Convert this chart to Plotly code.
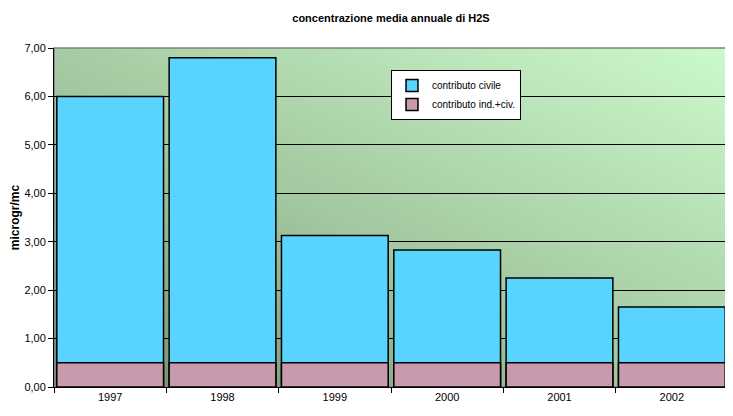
import base64
import plotly.graph_objects as go

anni = ["1997", "1998", "1999", "2000", "2001", "2002"]
contributo_civile = [6.0, 6.8, 3.13, 2.83, 2.25, 1.65]
contributo_ind_civ = [0.5, 0.5, 0.5, 0.5, 0.5, 0.5]
y_ticks = [0, 1, 2, 3, 4, 5, 6, 7]

# diagonal green background like the old Excel chart
svg = (
    '<svg xmlns="http://www.w3.org/2000/svg" width="100" height="100" preserveAspectRatio="none">'
    '<defs><linearGradient id="g" x1="0" y1="1" x2="1" y2="0">'
    '<stop offset="0" stop-color="#6f8c6f"/>'
    '<stop offset="0.45" stop-color="#a3c7a0"/>'
    '<stop offset="1" stop-color="#ccfacc"/>'
    '</linearGradient></defs>'
    '<rect width="100" height="100" fill="url(#g)"/></svg>'
)
bg_src = "data:image/svg+xml;base64," + base64.b64encode(svg.encode()).decode()

fig = go.Figure()
fig.add_trace(go.Bar(
    x=anni, y=contributo_civile, name="contributo civile",
    marker=dict(color="#58d4ff", line=dict(color="black", width=1.5)),
))
fig.add_trace(go.Bar(
    x=anni, y=contributo_ind_civ, name="contributo ind.+civ.",
    marker=dict(color="#c89aad", line=dict(color="black", width=1.5)),
))

# page body has an 8px margin, so margins are shifted by that
fig.update_layout(
    width=733, height=416,
    barmode="overlay", bargap=0.05,
    separators=",.",
    paper_bgcolor="white", plot_bgcolor="#a3c7a0",
    font=dict(family="Arial, Liberation Sans", size=11, color="black"),
    margin=dict(l=46, r=13, t=40, b=37, autoexpand=False),
    title=dict(text="<b>concentrazione media annuale di H2S</b>",
               x=0.5, xref="paper", y=0.985, yanchor="top",
               pad=dict(t=0), font=dict(size=11)),
    images=[dict(source=bg_src, xref="paper", yref="paper", x=0, y=1,
                 sizex=1, sizey=1, sizing="stretch", layer="below")],
    legend=dict(x=0.50, y=0.935, xanchor="left", yanchor="top",
                bgcolor="white", bordercolor="black", borderwidth=1,
                font=dict(size=10), tracegroupgap=0, itemwidth=30),
    showlegend=True,
)
fig.update_yaxes(
    range=[0, 7], tickvals=y_ticks, tickformat=".2f",
    showgrid=True, gridcolor="black", gridwidth=1,
    showline=True, linecolor="black", linewidth=1,
    ticks="outside", ticklen=5, tickcolor="black",
    mirror=False, zeroline=False, automargin=False,
    title=dict(text="<b>microgr/mc</b>", font=dict(size=12), standoff=6),
)
fig.update_xaxes(
    showline=True, linecolor="black", linewidth=1,
    ticks="outside", ticklen=5, tickcolor="black", tickson="boundaries",
    showgrid=False, automargin=False,
)
fig.add_shape(type="rect", xref="paper", yref="paper", x0=0, y0=0, x1=1, y1=1,
              line=dict(color="#808080", width=1.5), layer="below")

fig.write_html("out.html")
